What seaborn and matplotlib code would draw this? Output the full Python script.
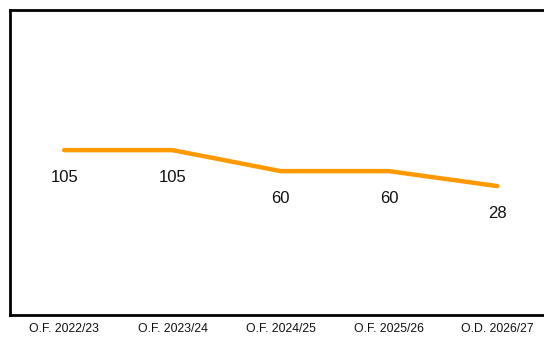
import matplotlib
matplotlib.use("Agg")
import matplotlib.pyplot as plt
import seaborn as sns
import pandas as pd

periods = ["O.F. 2022/23", "O.F. 2023/24", "O.F. 2024/25", "O.F. 2025/26", "O.D. 2026/27"]
values = [105, 105, 60, 60, 28]

df = pd.DataFrame({"period": periods, "value": values})

sns.set_style("white")
plt.rcParams["font.family"] = ["Liberation Sans", "DejaVu Sans"]

fig = plt.figure(figsize=(5.44, 3.38), dpi=100)
ax = fig.add_axes([10 / 544, 23 / 338, 1 - 10 / 544, 305 / 338])

sns.lineplot(data=df, x="period", y="value", color="#ff9900", linewidth=3.2,
             sort=False, ax=ax, solid_capstyle="round")

for i, v in enumerate(values):
    ax.annotate(str(v), (i, v), xytext=(0, -20), textcoords="offset points",
                ha="center", va="center", fontsize=12, color="#111111")

ax.set_xlim(-0.5, 4.43)
ax.set_ylim(-248, 405)
ax.set_yticks([])
ax.set_xlabel("")
ax.set_ylabel("")
ax.tick_params(axis="x", length=0, labelsize=8.8, pad=6, colors="#111111")
for side in ["left", "top", "bottom"]:
    ax.spines[side].set_color("black")
    ax.spines[side].set_linewidth(2)
ax.spines["right"].set_visible(False)

fig.savefig("out.png", dpi=100)
